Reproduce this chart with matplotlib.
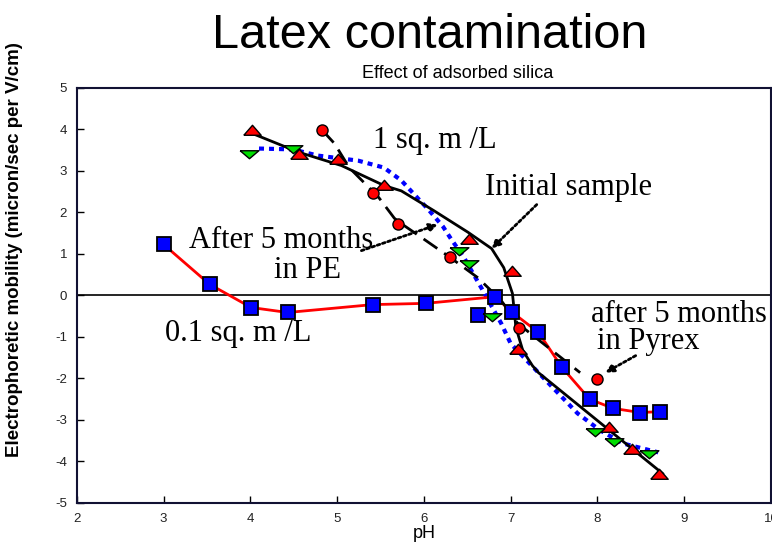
import matplotlib
matplotlib.use("Agg")
import matplotlib.pyplot as plt
from matplotlib.path import Path

plt.rcParams["axes.unicode_minus"] = False

# 0.1 sq. m /L  (red line, blue squares)
ph_01 = [3.0, 3.53, 4.01, 4.43, 5.41, 6.02, 6.82, 7.02, 7.32, 7.59, 7.91, 8.18, 8.49, 8.72]
mob_01 = [1.23, 0.27, -0.29, -0.41, -0.22, -0.19, -0.03, -0.41, -0.89, -1.73, -2.5, -2.72, -2.82, -2.8]
ph_01_extra = [6.62]
mob_01_extra = [-0.48]

# Initial sample (black solid curve, red triangles)
ph_init_curve = [4.05, 4.56, 5.05, 5.54, 5.74, 6.11, 6.51, 6.78, 6.92, 7.02, 7.06, 7.14, 7.25, 7.32, 8.75]
mob_init_curve = [3.88, 3.45, 3.13, 2.65, 2.52, 2.05, 1.52, 1.13, 0.67, 0.05, -0.77, -1.33, -1.69, -1.86, -4.29]
ph_init = [4.02, 4.56, 5.01, 5.54, 6.52, 7.02, 7.08, 8.13, 8.40, 8.71]
mob_init = [3.98, 3.40, 3.30, 2.67, 1.37, 0.60, -1.28, -3.18, -3.69, -4.31]

# 1 sq. m /L (black dashed curve, red circles)
ph_1_curve = [4.83, 4.97, 5.14, 5.31, 5.48, 5.66, 5.74, 5.97, 6.30, 6.62, 6.89, 7.08, 7.23, 7.80]
mob_1_curve = [3.98, 3.66, 3.08, 2.72, 2.36, 1.86, 1.73, 1.40, 0.92, 0.43, -0.12, -0.67, -0.92, -1.86]
ph_1 = [4.83, 5.41, 5.70, 6.30, 7.09, 7.99]
mob_1 = [3.98, 2.48, 1.73, 0.92, -0.78, -2.02]

# After 5 months in PE (blue dotted curve, green inverted triangles)
ph_pe_curve = [4.10, 4.49, 4.78, 5.24, 5.54, 5.74, 6.06, 6.22, 6.31, 6.46, 6.66, 6.89, 7.0,
               7.26, 7.77, 8.03, 8.30, 8.70]
mob_pe_curve = [3.54, 3.52, 3.37, 3.25, 3.08, 2.77, 2.05, 1.66, 1.37, 0.92, 0.19, -0.67, -1.16,
                -1.73, -2.84, -3.25, -3.57, -3.78]
ph_pe = [3.99, 4.49, 6.41, 6.52, 6.79, 7.97, 8.19, 8.59]
mob_pe = [3.40, 3.52, 1.06, 0.75, -0.53, -3.30, -3.52, -3.81]

up_tri = Path([(-1, -0.55), (1, -0.55), (0, 0.6), (-1, -0.55)])
down_tri = Path([(-1, 0.4), (1, 0.4), (0, -0.45), (-1, 0.4)])

fig = plt.figure(figsize=(7.72, 5.45), dpi=100)
ax = fig.add_axes([0.0994, 0.0771, 0.8994, 0.7615])

sans = "Liberation Sans"
serif = "Liberation Serif"

ax.plot(ph_pe_curve, mob_pe_curve, color="#0000ff", lw=3, ls=(0, (1.2, 1.2)), zorder=2)
ax.plot(ph_01, mob_01, color="red", lw=2, zorder=2)
ax.plot(ph_init_curve, mob_init_curve, color="black", lw=2, zorder=3)
ax.plot(ph_1_curve, mob_1_curve, color="black", lw=2, ls=(0, (6, 3)), zorder=3)

ax.plot(ph_01 + ph_01_extra, mob_01 + mob_01_extra, ls="none", marker="s", ms=9.5,
        mfc="#0000ff", mec="black", mew=1.3, zorder=5)
ax.plot(ph_init, mob_init, ls="none", marker=up_tri, ms=12.5, mfc="red", mec="black",
        mew=1, zorder=5)
ax.plot(ph_1, mob_1, ls="none", marker="o", ms=8, mfc="red", mec="black", mew=1, zorder=5)
ax.plot(ph_pe, mob_pe, ls="none", marker=down_tri, ms=13.5, mfc="#00dd00", mec="black",
        mew=1, zorder=5)

ax.axhline(0, color="black", lw=1.2, zorder=1)

ax.set_xlim(2, 10)
ax.set_ylim(-5, 5)
ax.set_xticks(range(2, 11))
ax.set_yticks(range(-5, 6))
ax.tick_params(direction="in", length=5, width=1, labelsize=9.5, pad=7,
               top=False, right=False)
for lab in ax.get_xticklabels() + ax.get_yticklabels():
    lab.set_fontfamily(sans)
    lab.set_color("#222222")
for s in ax.spines.values():
    s.set_linewidth(1.5)
    s.set_color("#111133")

ax.set_xlabel("pH", fontfamily=sans, fontsize=13, labelpad=0)
ax.set_ylabel("Electrophoretic mobility (micron/sec per V/cm)", fontfamily=sans,
              fontsize=13.5, fontweight="bold")
ax.yaxis.set_label_coords(-0.078, 0.61)

fig.text(0.556, 0.935, "Latex contamination", fontfamily=sans, fontsize=35,
         ha="center", va="center")
fig.text(0.593, 0.866, "Effect of adsorbed silica", fontfamily=sans, fontsize=13,
         ha="center", va="center")

tk = dict(fontfamily=serif, fontsize=22, va="center")
ax.text(6.13, 3.73, "1 sq. m /L", ha="center", **tk)
ax.text(7.67, 2.60, "Initial sample", ha="center", **tk)
ax.text(4.36, 1.33, "After 5 months", ha="center", **tk)
ax.text(4.66, 0.60, "in PE", ha="center", **tk)
ax.text(3.86, -0.92, "0.1 sq. m /L", ha="center", **tk)
ax.text(7.92, -0.45, "after 5 months", ha="left", **tk)
ax.text(8.0, -1.1, "in Pyrex", ha="left", **tk)

arr = dict(arrowstyle="-|>", color="black", lw=2, ls=(0, (1, 1)), mutation_scale=12,
           shrinkA=0, shrinkB=0)
ax.annotate("", xy=(6.78, 1.13), xytext=(7.30, 2.19), arrowprops=arr)
ax.annotate("", xy=(6.16, 1.71), xytext=(5.28, 1.08), arrowprops=arr)
ax.annotate("", xy=(8.09, -1.86), xytext=(8.44, -1.45), arrowprops=arr)

fig.savefig("out.png", dpi=100)
